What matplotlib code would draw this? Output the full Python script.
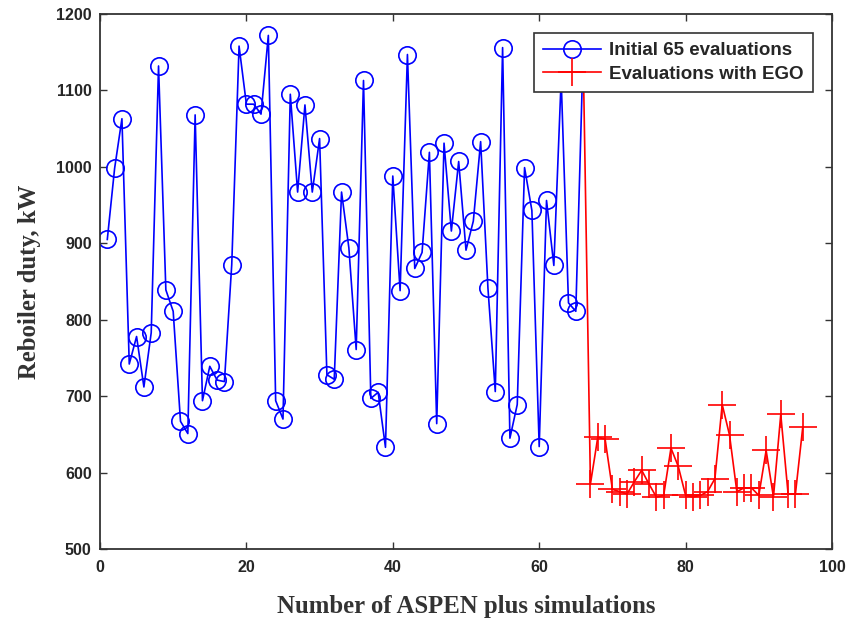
import matplotlib
matplotlib.use("Agg")
import matplotlib.pyplot as plt
import numpy as np

# reboiler duty for the initial design (runs 1..66) and the EGO runs (66..96)
init_runs = np.arange(1, 67)
init_duty = [905, 998, 1063, 742, 778, 712, 783, 1132, 839, 811,
             667, 651, 1068, 694, 739, 721, 719, 872, 1158, 1082,
             1082, 1069, 1172, 694, 670, 1095, 967, 1081, 967, 1037,
             728, 722, 967, 894, 761, 1113, 697, 705, 633, 988,
             838, 1147, 867, 888, 1019, 664, 1031, 916, 1007, 891,
             929, 1033, 841, 706, 1156, 645, 689, 999, 943, 634,
             956, 871, 1115, 822, 811, 1150]
ego_runs = np.arange(66, 97)
ego_duty = [1150, 585, 646, 644, 578, 575, 572, 588, 603, 585,
            568, 570, 632, 608, 570, 568, 570, 575, 592, 689,
            649, 575, 580, 580, 570, 629, 568, 676, 572, 572, 659]

labels = ["Initial 65 evaluations", "Evaluations with EGO"]
xticks = [0, 20, 40, 60, 80, 100]
yticks = [500, 600, 700, 800, 900, 1000, 1100, 1200]

sans = ["Liberation Sans", "DejaVu Sans"]
serif = ["Liberation Serif", "DejaVu Serif"]
edge = "#333333"

fig = plt.figure(figsize=(8.53, 6.22), dpi=100)
ax = fig.add_axes([0.1172, 0.1174, 0.8582, 0.8601])

ax.plot(init_runs, init_duty, color="#0000ff", lw=1.2, marker="o", ms=12.5,
        mfc="none", mec="#0000ff", mew=1.2, label=labels[0])
ax.plot(ego_runs, ego_duty, color="#ff0000", lw=1.2, marker="+", ms=20,
        mew=1.2, label=labels[1])

ax.set_xlim(0, 100)
ax.set_ylim(500, 1200)
ax.set_xticks(xticks)
ax.set_yticks(yticks)
ax.tick_params(axis="x", pad=8)
ax.tick_params(axis="y", pad=6)
ax.tick_params(direction="in", length=5, width=1.0, color=edge,
               top=True, right=True)
for lab in ax.get_xticklabels() + ax.get_yticklabels():
    lab.set_family(sans)
    lab.set_fontweight("bold")
    lab.set_fontsize(11.5)
    lab.set_color("#262626")
for sp in ax.spines.values():
    sp.set_color(edge)
    sp.set_linewidth(1.3)

ax.set_xlabel("Number of ASPEN plus simulations", family=serif,
              fontweight="bold", fontsize=17.8, color="#333333", labelpad=14)
ax.set_ylabel("Reboiler duty, kW", family=serif, fontweight="bold",
              fontsize=17.8, color="#333333", labelpad=11)

# legend sits over the top of the transition from initial to EGO runs
leg = ax.legend(loc="upper right", bbox_to_anchor=(0.974, 0.965),
                prop={"family": sans, "weight": "bold", "size": 13.5},
                fancybox=False, framealpha=1, edgecolor=edge,
                handlelength=3.05, handletextpad=0.45, borderpad=0.5,
                labelspacing=0.35, borderaxespad=0)
leg.get_frame().set_linewidth(1.2)
for t in leg.get_texts():
    t.set_color("#262626")

fig.savefig("out.png", dpi=100)
